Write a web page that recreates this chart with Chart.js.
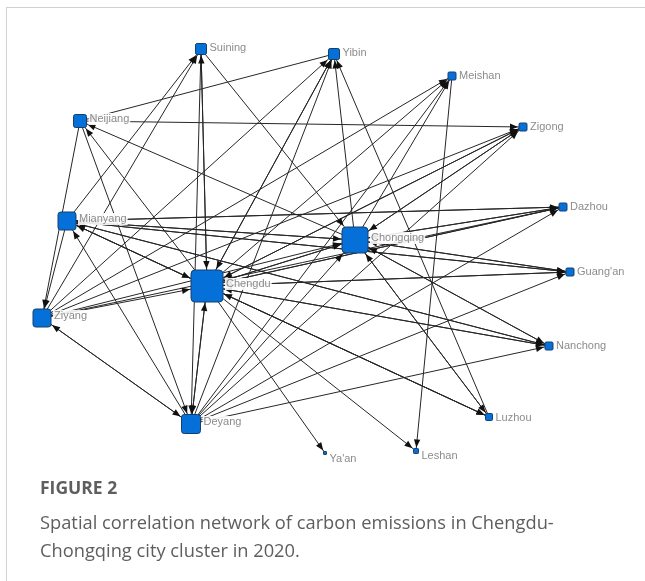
<!DOCTYPE html>
<html>
<head>
<meta charset="utf-8">
<script src="https://cdn.jsdelivr.net/npm/chart.js@4/dist/chart.umd.min.js"></script>
<style>
  html, body { margin: 0; padding: 0; background: #fff; }
  #wrap { position: relative; width: 645px; height: 581px; overflow: hidden; }
  #frame { position: absolute; left: 6px; top: 7px; width: 700px; height: 640px;
           border-top: 1px solid #d2d2d2; border-left: 1px solid #d2d2d2; }
  #net { position: absolute; left: 0; top: 0; }
  .figno { position: absolute; left: 40px; top: 475px; font: bold 17.5px "Open Sans", sans-serif;
           color: #5e5e5e; }
  .cap { position: absolute; left: 40px; top: 508px; font: 18.3px "Open Sans", sans-serif;
         color: #5e5e5e; line-height: 28px; width: 605px; white-space: nowrap; }
</style>
</head>
<body>
<div id="wrap">
  <div id="frame"></div>
  <canvas id="net" width="645" height="581"></canvas>
  <div class="figno">FIGURE 2</div>
  <div class="cap">Spatial correlation network of carbon emissions in Chengdu-<br>Chongqing city cluster in 2020.</div>
</div>
<script>
// City nodes: layout position and node size (size grows with centrality)
const nodeNames = ["Chengdu", "Chongqing", "Mianyang", "Deyang", "Ziyang", "Neijiang", "Suining", "Yibin",
                   "Meishan", "Zigong", "Dazhou", "Guang'an", "Nanchong", "Luzhou", "Ya'an", "Leshan"];
const nodeX = [207, 355, 67, 191, 42, 80, 201, 334, 452, 523, 563, 570, 549, 489, 325, 416];
const nodeY = [286, 240, 221, 424, 318, 121, 49, 54, 76, 127, 207, 272, 346, 417, 453, 451];
const nodeSize = [32, 26, 18, 19, 18, 13, 11, 11, 8, 8, 8, 8, 8, 7, 3, 5];

// Directed spillover links (source index -> target index)
const edgeFrom = [
  0,0,0,0,0,0,0,0,0,0,0,0,0,0,
  1,1,1,1,1,1,1,1,1,1,
  2,2,2,2,2,2,2,2,
  3,3,3,3,3,3,3,3,3,3,
  4,4,4,4,4,4,4,4,
  5,5,5,
  6,6,6,
  7,7,
  10,10,10,
  11,11,11,
  12,12,12,
  13,13,13,
  8,
  9,9
];
const edgeTo = [
  1,3,6,2,14,15,8,9,10,11,12,13,7,5,
  0,2,10,11,12,13,9,8,7,5,
  0,1,6,4,10,11,12,13,
  0,1,2,4,10,11,12,8,9,7,
  0,1,6,7,8,9,3,10,
  9,4,3,
  0,1,3,
  5,0,
  0,1,2,
  0,1,2,
  0,1,2,
  0,1,7,
  15,
  0,1
];

const EDGE_COLOR = '#262626';

const nodePoints = nodeNames.map((n, i) => ({ x: nodeX[i], y: nodeY[i] }));

const datasets = [{
  label: 'cities',
  data: nodePoints,
  pointRadius: 0,
  pointHoverRadius: 0,
  showLine: false
}];
edgeFrom.forEach((s, k) => {
  const t = edgeTo[k];
  datasets.push({
    label: nodeNames[s] + ' -> ' + nodeNames[t],
    data: [{ x: nodeX[s], y: nodeY[s] }, { x: nodeX[t], y: nodeY[t] }],
    showLine: true,
    borderColor: EDGE_COLOR,
    borderWidth: 1,
    pointRadius: 0,
    pointHoverRadius: 0,
    fill: false
  });
});

function roundRect(ctx, x, y, w, h, r) {
  ctx.beginPath();
  ctx.moveTo(x + r, y);
  ctx.lineTo(x + w - r, y);
  ctx.quadraticCurveTo(x + w, y, x + w, y + r);
  ctx.lineTo(x + w, y + h - r);
  ctx.quadraticCurveTo(x + w, y + h, x + w - r, y + h);
  ctx.lineTo(x + r, y + h);
  ctx.quadraticCurveTo(x, y + h, x, y + h - r);
  ctx.lineTo(x, y + r);
  ctx.quadraticCurveTo(x, y, x + r, y);
  ctx.closePath();
}

// Arrowheads, labels and node boxes drawn on top of the link lines
const networkPlugin = {
  id: 'network',
  afterDatasetsDraw(chart) {
    const ctx = chart.ctx;
    const pts = chart.getDatasetMeta(0).data;
    ctx.save();

    // arrowheads at the target box edge
    ctx.fillStyle = '#111';
    edgeFrom.forEach((s, k) => {
      const t = edgeTo[k];
      const ps = pts[s], pt = pts[t];
      const dx = ps.x - pt.x, dy = ps.y - pt.y;
      const len = Math.hypot(dx, dy);
      const ux = dx / len, uy = dy / len;
      const h = nodeSize[t] / 2 + 1;
      const kk = h / Math.max(Math.abs(ux), Math.abs(uy));
      const tipX = pt.x + ux * kk, tipY = pt.y + uy * kk;
      const L = 8, W = 3.2;
      const bx = tipX + ux * L, by = tipY + uy * L;
      ctx.beginPath();
      ctx.moveTo(tipX, tipY);
      ctx.lineTo(bx - uy * W, by + ux * W);
      ctx.lineTo(bx + uy * W, by - ux * W);
      ctx.closePath();
      ctx.fill();
    });

    // city labels with a white backing, upper right of each box
    ctx.font = '11px "Liberation Sans", Arial, sans-serif';
    ctx.textBaseline = 'middle';
    pts.forEach((p, i) => {
      const h = nodeSize[i] / 2;
      const lx = p.x + h + 3;
      const ly = Math.max(p.y - h + 4, p.y - 2) + (nodeSize[i] < 6 ? 3 : 0);
      const w = ctx.measureText(nodeNames[i]).width;
      ctx.fillStyle = 'rgba(255,255,255,0.9)';
      ctx.fillRect(lx - 1, ly - 6, w + 2, 12);
      ctx.fillStyle = '#8c8c8c';
      ctx.fillText(nodeNames[i], lx, ly);
    });

    // node boxes
    pts.forEach((p, i) => {
      const s = nodeSize[i];
      const r = Math.min(4, s * 0.15);
      roundRect(ctx, p.x - s / 2, p.y - s / 2, s, s, r);
      ctx.fillStyle = '#0470d8';
      ctx.fill();
      ctx.lineWidth = 1;
      ctx.strokeStyle = '#163f70';
      ctx.stroke();
    });
    ctx.restore();
  }
};

new Chart(document.getElementById('net'), {
  type: 'scatter',
  data: { datasets },
  options: {
    responsive: false,
    animation: false,
    devicePixelRatio: 1,
    layout: { padding: 0 },
    events: [],
    plugins: { legend: { display: false }, tooltip: { enabled: false } },
    scales: {
      x: { type: 'linear', min: 0, max: 645, display: false },
      y: { type: 'linear', min: 0, max: 581, reverse: true, display: false }
    }
  },
  plugins: [networkPlugin]
});
</script>
</body>
</html>
